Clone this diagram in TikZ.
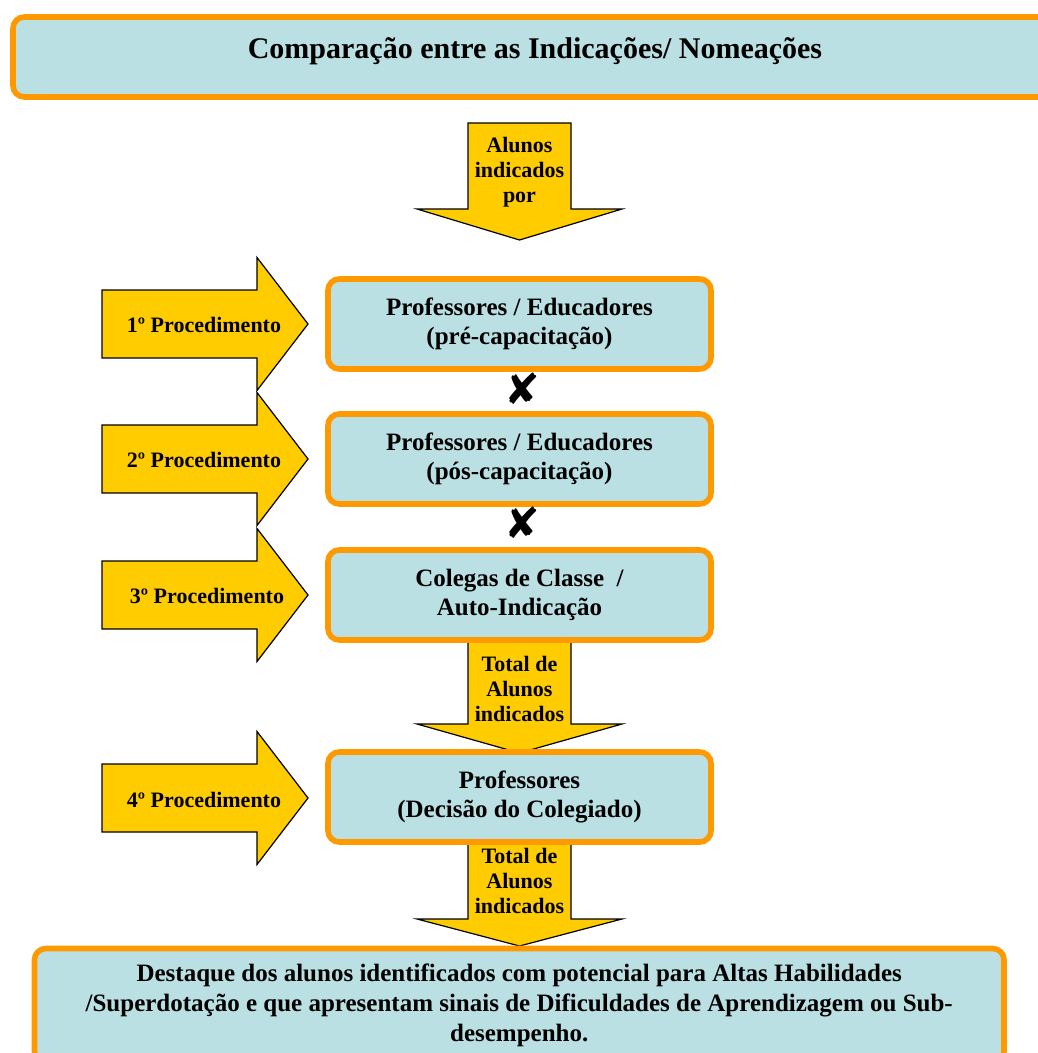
\documentclass[tikz,border=0pt]{standalone}
\usepackage{fontspec}
\setmainfont{Liberation Serif}
\newfontfamily\crossfont{DejaVu Sans}
\usetikzlibrary{backgrounds}
\definecolor{Sky}{HTML}{BAE0E3}
\definecolor{Amber}{HTML}{FF9900}
\definecolor{Gold}{HTML}{FFCC00}
\tikzset{
  panel/.style={draw=Amber,line width=4.2pt,fill=Sky,rounded corners=8.5pt,inner sep=0pt},
  stage/.style={panel,minimum width=287.25pt,minimum height=67.5pt,align=center,font=\fontsize{18.75}{21.75}\selectfont\bfseries},
  blockarr/.style={draw=black,line width=.9pt,fill=Gold,line join=miter},
  arrtext/.style={font=\fontsize{16.5}{18.75}\selectfont\bfseries,align=center,inner sep=0pt},
  proctext/.style={font=\fontsize{16.5}{18.75}\selectfont\bfseries,anchor=base,inner sep=0pt},
  cross/.style={font=\crossfont\fontsize{32}{32}\selectfont,inner sep=0pt}
}

\begin{document}
\begin{tikzpicture}[x=.75pt,y=-.75pt]
  \useasboundingbox (0,0) rectangle (1038,1053);

  % heading
  \node[panel,minimum width=779.25pt,minimum height=60pt] (titlebox) at (532.5,57) {};
  \node[font=\fontsize{22.5}{27}\selectfont\bfseries,anchor=base,inner sep=0pt] (title) at (535,58) {Comparação entre as Indicações/ Nomeações};

  % the four stages
  \node[stage] (pre) at (519.5,324) {Professores / Educadores\\(pré-capacitação)};
  \node[stage] (pos) at (519.5,459) {Professores / Educadores\\(pós-capacitação)};
  \node[stage] (peer) at (519.5,595) {Colegas de Classe\ \ /\\Auto-Indicação};
  \node[stage] (board) at (519.5,797) {Professores\\(Decisão do Colegiado)};
  \node[cross] (x1) at (522,389) {✘};
  \node[cross] (x2) at (522,523) {✘};

  \node[panel,minimum width=727.1pt,minimum height=85.5pt,align=center,font=\fontsize{18.75}{22.5}\selectfont\bfseries] (result) at (519.25,1005.5)
    {Destaque dos alunos identificados com potencial para Altas Habilidades\\/Superdotação e que apresentam sinais de Dificuldades de Aprendizagem ou Sub-\\desempenho.};

  \begin{scope}[on background layer]
    % block arrows down the middle
    \draw[blockarr] (468,123) -- (571,123) -- (571,209) -- (622,209) -- (519.5,240) -- (417,209) -- (468,209) -- cycle;
    \node[arrtext] (by) at (519.5,172) {Alunos\\indicados\\por};
    \draw[blockarr] (468,640) -- (571,640) -- (571,724) -- (622,724) -- (519.5,753) -- (417,724) -- (468,724) -- cycle;
    \node[arrtext] (sum1) at (519.5,689) {Total de\\Alunos\\indicados};
    \draw[blockarr] (468,842) -- (571,842) -- (571,919) -- (622,919) -- (519.5,946) -- (417,919) -- (468,919) -- cycle;
    \node[arrtext] (sum2) at (519.5,881) {Total de\\Alunos\\indicados};

    % procedures on the left
    \draw[blockarr] (102,290) -- (257,290) -- (257,257.5) -- (308,324) -- (257,390.5) -- (257,358) -- (102,358) -- cycle;
    \node[proctext] (p1) at (204,332) {1º Procedimento};
    \draw[blockarr] (102,425) -- (257,425) -- (257,392.5) -- (308,459) -- (257,525.5) -- (257,493) -- (102,493) -- cycle;
    \node[proctext] (p2) at (204,467) {2º Procedimento};
    \draw[blockarr] (102,561) -- (257,561) -- (257,528.5) -- (308,595) -- (257,661.5) -- (257,629) -- (102,629) -- cycle;
    \node[proctext] (p3) at (207,603) {3º Procedimento};
    \draw[blockarr] (102,764) -- (257,764) -- (257,731.5) -- (308,798) -- (257,864.5) -- (257,832) -- (102,832) -- cycle;
    \node[proctext] (p4) at (204,807) {4º Procedimento};
  \end{scope}
\end{tikzpicture}
\end{document}
